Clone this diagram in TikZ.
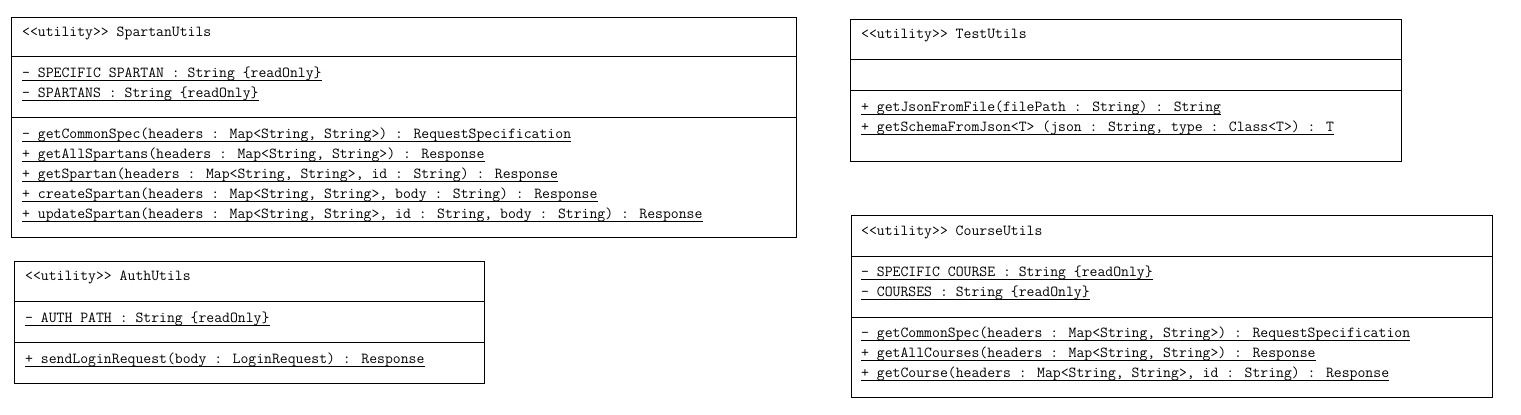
\documentclass[tikz,border=0pt]{standalone}
\usepackage{fontspec}
\tikzset{
  box/.style={draw=black, line width=1pt, fill=white, inner sep=0pt, anchor=north west},
  sep/.style={draw=black, line width=1pt},
  txt/.style={inner sep=0pt, anchor=base west, font=\ttfamily\fontsize{15.3}{18}\selectfont, text=black},
  ul/.style={draw=black, line width=0.9pt},
}
\newcommand\ttl[4]{\node[txt] (#1) at (#2,#3) {#4};}
\newcommand\mline[4]{\node[txt] (#1) at (#2,#3) {#4};
  \draw[ul] ([yshift=-3pt]#1.base west) -- ([yshift=-3pt]#1.base east);}
\begin{document}
\begin{tikzpicture}[x=1pt,y=-1pt]
\useasboundingbox (0,0) rectangle (1521,415);
% SpartanUtils
\node[box, minimum width=785pt, minimum height=220pt] (spartan) at (11,17) {};
\draw[sep] (11,56) -- (796,56);
\draw[sep] (11,117) -- (796,117);
\ttl{sT}{22}{36}{<<utility>> SpartanUtils}
\mline{sA1}{22}{77.5}{- SPECIFIC SPARTAN : String \{readOnly\}}
\mline{sA2}{22}{97.5}{- SPARTANS : String \{readOnly\}}
\mline{sM1}{22}{138}{- getCommonSpec(headers : Map<String, String>) : RequestSpecification}
\mline{sM2}{22}{158}{+ getAllSpartans(headers : Map<String, String>) : Response}
\mline{sM3}{22}{178}{+ getSpartan(headers : Map<String, String>, id : String) : Response}
\mline{sM4}{22}{198}{+ createSpartan(headers : Map<String, String>, body : String) : Response}
\mline{sM5}{22}{218}{+ updateSpartan(headers : Map<String, String>, id : String, body : String) : Response}
% AuthUtils
\node[box, minimum width=470pt, minimum height=122pt] (auth) at (14,261) {};
\draw[sep] (14,301) -- (484,301);
\draw[sep] (14,342) -- (484,342);
\ttl{aT}{25}{280}{<<utility>> AuthUtils}
\mline{aA1}{25}{322}{- AUTH PATH : String \{readOnly\}}
\mline{aM1}{25}{363.5}{+ sendLoginRequest(body : LoginRequest) : Response}
% TestUtils
\node[box, minimum width=551pt, minimum height=142pt] (test) at (850,19) {};
\draw[sep] (850,59) -- (1401,59);
\draw[sep] (850,90.5) -- (1401,90.5);
\ttl{tT}{861}{38.5}{<<utility>> TestUtils}
\mline{tM1}{861}{111.5}{+ getJsonFromFile(filePath : String) : String}
\mline{tM2}{861}{131.5}{+ getSchemaFromJson<T> (json : String, type : Class<T>) : T}
% CourseUtils
\node[box, minimum width=641pt, minimum height=182pt] (course) at (851,215) {};
\draw[sep] (851,256) -- (1492,256);
\draw[sep] (851,317) -- (1492,317);
\ttl{cT}{861}{235}{<<utility>> CourseUtils}
\mline{cA1}{861}{276}{- SPECIFIC COURSE : String \{readOnly\}}
\mline{cA2}{861}{296}{- COURSES : String \{readOnly\}}
\mline{cM1}{861}{337}{- getCommonSpec(headers : Map<String, String>) : RequestSpecification}
\mline{cM2}{861}{357}{+ getAllCourses(headers : Map<String, String>) : Response}
\mline{cM3}{861}{377}{+ getCourse(headers : Map<String, String>, id : String) : Response}
\end{tikzpicture}
\end{document}
